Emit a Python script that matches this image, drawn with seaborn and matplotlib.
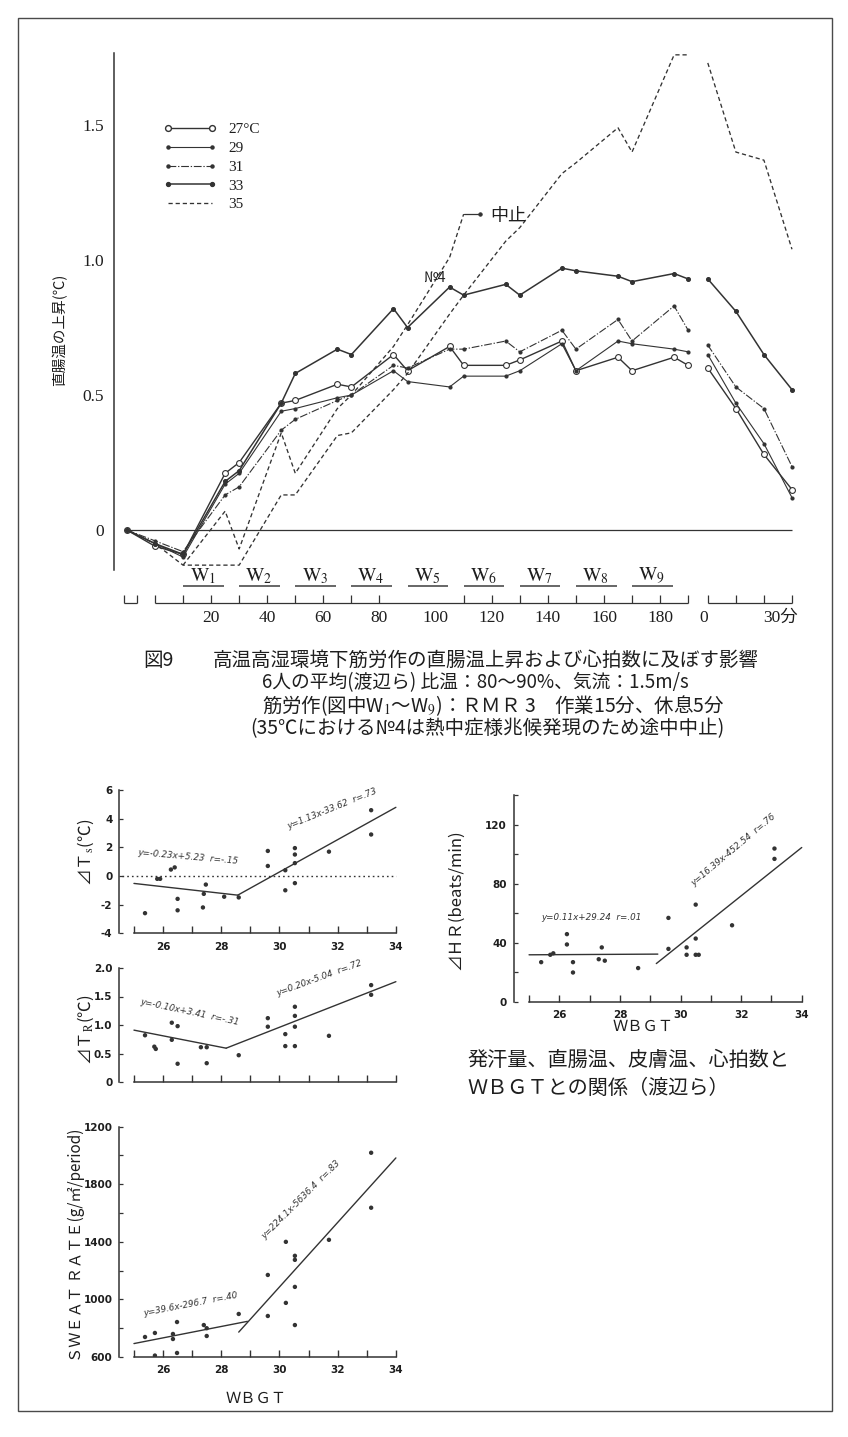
import matplotlib
matplotlib.use("Agg")
import matplotlib.pyplot as plt
import numpy as np
import pandas as pd
import seaborn as sns
from matplotlib.lines import Line2D
from matplotlib.patches import Rectangle

sns.set_theme(style="white")
plt.rcParams["font.family"] = ["Noto Sans CJK JP", "DejaVu Sans"]
plt.rcParams["mathtext.fontset"] = "stix"
plt.rcParams["axes.unicode_minus"] = False

INK = "#333333"
TXT = "#1e1e1e"
SERIF = ["Liberation Serif", "Noto Sans CJK JP"]

# ---------------- rise of rectal temperature (deg C) ----------------
work_min = [-10, 0, 10, 25, 30, 45, 50, 65, 70, 85, 90, 105, 110, 125, 130, 145, 150, 165, 170, 185, 190]
recovery_min = [0, 10, 20, 30]

rise_27 = [0, -0.06, -0.09, 0.21, 0.25, 0.47, 0.48, 0.54, 0.53, 0.65, 0.59, 0.68, 0.61, 0.61, 0.63, 0.70, 0.59, 0.64, 0.59, 0.64, 0.61]
rise_29 = [0, -0.05, -0.10, 0.17, 0.21, 0.44, 0.45, 0.49, 0.50, 0.59, 0.55, 0.53, 0.57, 0.57, 0.59, 0.69, 0.59, 0.70, 0.69, 0.67, 0.66]
rise_31 = [0, -0.04, -0.08, 0.13, 0.16, 0.37, 0.41, 0.48, 0.50, 0.61, 0.60, 0.67, 0.67, 0.70, 0.66, 0.74, 0.67, 0.78, 0.70, 0.83, 0.74]
rise_33 = [0, -0.05, -0.09, 0.18, 0.22, 0.47, 0.58, 0.67, 0.65, 0.82, 0.75, 0.90, 0.87, 0.91, 0.87, 0.97, 0.96, 0.94, 0.92, 0.95, 0.93]
rise_35 = [0, -0.05, -0.13, -0.13, -0.13, 0.13, 0.13, 0.35, 0.36, 0.52, 0.58, 0.80, 0.87, 1.07, 1.12, 1.32, 1.36, 1.49, 1.40, 1.76, 1.76]

recovery_27 = [0.60, 0.45, 0.28, 0.15]
recovery_29 = [0.65, 0.47, 0.32, 0.12]
recovery_31 = [0.685, 0.53, 0.45, 0.235]
recovery_33 = [0.93, 0.81, 0.65, 0.52]
recovery_35 = [1.73, 1.40, 1.37, 1.04]

# subject No.4 at 35 deg C, stopped during the 6th work bout
no4_min = [10, 25, 30, 45, 50, 65, 70, 85, 90, 105, 110]
no4_rise = [-0.13, 0.07, -0.07, 0.36, 0.21, 0.45, 0.50, 0.68, 0.76, 1.01, 1.17]
no4_stop_min = [110, 116]
no4_stop_rise = [1.17, 1.17]

series_names = ["27°C", "29", "31", "33", "35"]
work_ticks = [20, 40, 60, 80, 100, 120, 140, 160, 180]
work_blocks = [r"$\mathrm{W}_{%d}$" % k for k in range(1, 10)]
RECOVERY_START = 197   # axis position of recovery minute 0

# ---------------- WBGT relations ----------------
ts_wbgt = [25.38, 25.8, 25.9, 26.27, 26.4, 26.5, 26.5, 27.47, 27.4, 27.37, 28.1, 28.6,
           29.6, 29.6, 30.2, 30.2, 30.53, 30.53, 30.53, 30.53, 31.7, 33.15, 33.15]
ts_delta = [-2.6, -0.2, -0.2, 0.45, 0.6, -1.6, -2.4, -0.6, -1.25, -2.2, -1.45, -1.5,
            1.75, 0.7, 0.4, -1.0, 1.95, 1.5, 0.9, -0.5, 1.7, 4.6, 2.9]

tr_wbgt = [25.38, 25.7, 25.75, 26.3, 26.5, 26.3, 26.5, 27.3, 27.5, 27.5, 28.6, 29.6,
           29.6, 30.2, 30.2, 30.53, 30.53, 30.53, 30.53, 31.7, 33.15, 33.15]
tr_delta = [0.82, 0.62, 0.58, 1.04, 0.98, 0.74, 0.32, 0.61, 0.61, 0.33, 0.47, 1.12,
            0.97, 0.84, 0.63, 1.32, 1.16, 0.97, 0.63, 0.81, 1.70, 1.53]

sw_wbgt = [25.38, 25.72, 25.72, 26.34, 26.34, 26.48, 26.48, 27.4, 27.5, 27.5, 28.6, 29.6,
           29.6, 30.22, 30.22, 30.53, 30.53, 30.53, 30.53, 31.7, 33.15, 33.15]
sw_rate = [739, 767, 610, 760, 725, 843, 628, 822, 800, 746, 899, 1170,
           885, 1400, 976, 1303, 1275, 1087, 822, 1414, 2019, 1637]

hr_wbgt = [25.4, 25.7, 25.8, 26.25, 26.25, 26.45, 26.45, 27.4, 27.3, 27.5, 28.6, 29.6,
           29.6, 30.2, 30.2, 30.5, 30.6, 30.5, 30.5, 31.7, 33.1, 33.1]
hr_delta = [27, 32, 33, 46, 39, 27, 20, 37, 29, 28, 23, 57,
            36, 37, 32, 32, 32, 43, 66, 52, 104, 97]

# regression lines: (slope, intercept, wbgt_from, wbgt_to, label)
ts_fits = [(-0.23, 5.23, 25.0, 28.57, "y=-0.23x+5.23  r=-.15"),
           (1.13, -33.62, 28.57, 34.0, "y=1.13x-33.62  r=.73")]
tr_fits = [(-0.10, 3.41, 25.0, 28.17, "y=-0.10x+3.41  r=-.31"),
           (0.20, -5.04, 28.17, 34.0, "y=0.20x-5.04  r=.72")]
sw_fits = [(39.6, -296.7, 25.0, 28.9, "y=39.6x-296.7  r=.40"),
           (224.1, -5636.4, 28.6, 34.0, "y=224.1x-5636.4  r=.83")]
hr_fits = [(0.11, 29.24, 25.0, 29.25, "y=0.11x+29.24  r=.01"),
           (16.39, -452.54, 29.2, 34.0, "y=16.39x-452.54  r=.76")]

wbgt_ticks = list(range(25, 35))
wbgt_labels = ["", "26", "", "28", "", "30", "", "32", "", "34"]

FIG_W, FIG_H = 848, 1437
fig = plt.figure(figsize=(FIG_W / 100, FIG_H / 100), dpi=100)
fig.patch.set_facecolor("white")


def px_axes(x0, y0, x1, y1):
    return fig.add_axes([x0 / FIG_W, 1 - y1 / FIG_H, (x1 - x0) / FIG_W, (y1 - y0) / FIG_H])


def ftext(x, y, s, **kw):
    kw.setdefault("color", TXT)
    return fig.text(x / FIG_W, 1 - y / FIG_H, s, **kw)


# page frame
fig.patches.append(Rectangle((18 / FIG_W, 1 - 1411 / FIG_H), (832 - 18) / FIG_W, (1411 - 18) / FIG_H,
                             transform=fig.transFigure, fill=False, lw=1.0, ec="#4a4a4a"))

# ================= main time-course chart =================
ax = px_axes(114, 53.5, 800.4, 570)
ax.set_facecolor("none")
ax.set_xlim(-14.6, 230)
ax.set_ylim(-0.148, 1.765)

ax.hlines(0, -10.5, RECOVERY_START + 30, color=INK, lw=0.9)

styles = {
    "27°C": dict(lw=1.0, linestyle="-", marker="o", markersize=4.2, markerfacecolor="white"),
    "29": dict(lw=0.8, linestyle="-", marker="o", markersize=2.2, markerfacecolor=INK),
    "31": dict(lw=0.8, linestyle=(0, (7, 1.6, 1.2, 1.6)), marker="o", markersize=2.2, markerfacecolor=INK),
    "33": dict(lw=1.1, linestyle="-", marker="o", markersize=2.8, markerfacecolor=INK),
    "35": dict(lw=0.95, linestyle=(0, (3.2, 2.2)), marker=None),
}
work_vals = [rise_27, rise_29, rise_31, rise_33, rise_35]
rec_vals = [recovery_27, recovery_29, recovery_31, recovery_33, recovery_35]

rows = []
for name, wv, rv in zip(series_names, work_vals, rec_vals):
    for t, v in zip(work_min, wv):
        rows.append((name, "work", t, v))
    for t, v in zip(recovery_min, rv):
        rows.append((name, "recovery", RECOVERY_START + t, v))
course = pd.DataFrame(rows, columns=["temp", "phase", "pos", "rise"])

for name in series_names:
    for phase in ["work", "recovery"]:
        sub = course[(course.temp == name) & (course.phase == phase)]
        sns.lineplot(data=sub, x="pos", y="rise", ax=ax, color=INK, estimator=None, sort=False,
                     legend=False, markeredgecolor=INK, markeredgewidth=0.8, clip_on=False,
                     **styles[name])

sns.lineplot(x=no4_min, y=no4_rise, ax=ax, color=INK, estimator=None, sort=False, legend=False,
             lw=0.95, linestyle=(0, (3.2, 2.2)))
sns.lineplot(x=no4_stop_min, y=no4_stop_rise, ax=ax, color=INK, estimator=None, sort=False,
             legend=False, lw=0.9, marker="o", markersize=2.4, markevery=[1],
             markeredgecolor=INK, markerfacecolor=INK)
ax.text(99.5, 0.935, "№4", ha="center", va="center", fontsize=10.5, color=TXT)
ax.text(119.5, 1.163, "中止", ha="left", va="center", fontsize=13, color=TXT)

# axis styling after seaborn has drawn (it sets its own labels)
ax.set_xlabel("")
ax.set_ylabel("")
for s in ["top", "right", "bottom"]:
    ax.spines[s].set_visible(False)
ax.spines["left"].set_color(INK)
ax.spines["left"].set_linewidth(1.1)
ax.set_yticks([0, 0.5, 1.0, 1.5])
ax.set_yticklabels(["0", "0.5", "1.0", "1.5"])
ax.tick_params(axis="y", direction="out", length=6, width=1, colors=INK, labelsize=12.5, pad=1.5)
for lab in ax.get_yticklabels():
    lab.set_fontfamily(SERIF)
    lab.set_color(TXT)
ax.set_xticks([])
ax.grid(False)
ax.set_xlim(-14.6, 230)
ax.set_ylim(-0.148, 1.765)

# legend
handles = [Line2D([], [], color=INK, **{k: v for k, v in styles[n].items()},
                  markeredgecolor=INK) for n in series_names]
leg = ax.legend(handles, series_names, loc="upper left", bbox_to_anchor=(0.072, 0.866),
                frameon=False, numpoints=2, handlelength=3.5, handletextpad=0.75,
                labelspacing=0.33, borderaxespad=0, borderpad=0,
                prop={"family": SERIF, "size": 11})
for t in leg.get_texts():
    t.set_color(TXT)

# bracketed time axis
y_base, y_top = -0.272, -0.242
def bracket(t0, t1, ticks):
    ax.hlines(y_base, t0, t1, color=INK, lw=0.9, clip_on=False)
    ax.vlines(ticks, y_base, y_top, color=INK, lw=0.9, clip_on=False)

bracket(-11, -6.5, [-11, -6.5])
bracket(0, 190, [0, 10, 20, 30, 40, 50, 60, 70, 80, 110, 120, 130, 140, 150, 160, 170, 180, 190])
bracket(RECOVERY_START, RECOVERY_START + 30, [RECOVERY_START + m for m in recovery_min])

for t in work_ticks:
    ax.text(t, -0.325, str(t), ha="center", va="center", fontsize=12.5, family=SERIF,
            color=TXT, clip_on=False)
ax.text(RECOVERY_START - 1.5, -0.325, "0", ha="center", va="center", fontsize=12.5,
        family=SERIF, color=TXT, clip_on=False)
ax.text(RECOVERY_START + 26, -0.325, "30分", ha="center", va="center", fontsize=12.5,
        family=SERIF, color=TXT, clip_on=False)

for k, lab in enumerate(work_blocks, start=1):
    t0, t1 = 20 * k - 10, 20 * k + 5
    ax.text((t0 + t1) / 2 - 0.5, -0.168, lab, ha="center", va="center", fontsize=14,
            color=TXT, clip_on=False)
    ax.hlines(-0.207, t0, t1 - 0.5, color="#5a5a5a", lw=1.3, clip_on=False)

ftext(60, 330, "直腸温の上昇(℃)", rotation=90, ha="center", va="center", fontsize=10.5)

# caption of the time-course chart
ftext(143, 660, "図9", ha="left", va="center", fontsize=14)
ftext(213, 660, "高温高湿環境下筋労作の直腸温上昇および心拍数に及ぼす影響",
      ha="left", va="center", fontsize=14)
ftext(262, 683, "6人の平均(渡辺ら) 比温：80～90%、気流：1.5m/s", ha="left", va="center", fontsize=13.5)
ftext(262, 706, r"筋労作(図中W$_1$～W$_9$)：ＲＭＲ 3　作業15分、休息5分", ha="left", va="center",
      fontsize=14)
ftext(250, 729, "(35℃における№4は熱中症様兆候発現のため途中中止)", ha="left", va="center",
      fontsize=14)


# ================= WBGT panels =================
def wbgt_panel(box, ylim, yticks, ylabels, xs, ys, fits, eq_pos, show_xlabels,
               minor=None, hline=None):
    a = px_axes(*box)
    a.set_facecolor("none")
    if hline is not None:
        a.hlines(hline, 24.6, 34.0, color=INK, lw=1.0, linestyles=(0, (1.2, 2.2)))
    sns.scatterplot(x=xs, y=ys, ax=a, s=10, color=INK, edgecolor="none", legend=False)
    for (m, c, x0, x1, lab), (ex, ey, rot) in zip(fits, eq_pos):
        fx = np.array([x0, x1])
        sns.lineplot(x=fx, y=m * fx + c, ax=a, color=INK, lw=1.0, estimator=None, legend=False)
        a.text(ex, ey, lab, rotation=rot, ha="center", va="center", fontsize=6.3,
               family="DejaVu Sans", color="#333333", style="italic", rotation_mode="anchor")
    a.set_xlabel("")
    a.set_ylabel("")
    a.set_xlim(24.5, 34.2)
    a.set_ylim(*ylim)
    for s in ["top", "right"]:
        a.spines[s].set_visible(False)
    for s in ["left", "bottom"]:
        a.spines[s].set_color(INK)
        a.spines[s].set_linewidth(1.1)
    a.spines["bottom"].set_bounds(25, 34)
    a.spines["left"].set_bounds(ylim[0], yticks[-1] if minor is None else max(yticks[-1], minor[-1]))
    a.set_xticks(wbgt_ticks)
    a.set_xticklabels(wbgt_labels if show_xlabels else [""] * len(wbgt_ticks))
    a.set_yticks(yticks)
    a.set_yticklabels(ylabels)
    if minor is not None:
        a.set_yticks(minor, minor=True)
        a.tick_params(axis="y", which="minor", direction="in", length=3, width=0.9, colors=INK, left=True)
    a.tick_params(axis="x", direction="in", length=5, width=1.0, colors=INK, pad=6,
                  labelsize=7.5, bottom=True)
    a.tick_params(axis="y", which="major", direction="in", length=3, width=0.9, colors=INK,
                  pad=5, labelsize=7.5, left=True)
    for lab in a.get_xticklabels() + a.get_yticklabels():
        lab.set_fontweight("bold")
        lab.set_fontfamily("DejaVu Sans")
        lab.set_color(TXT)
    a.grid(False)
    return a


ax_ts = wbgt_panel((119.4, 787.3, 401.7, 933.2), (-4, 6.2), [-4, -2, 0, 2, 4, 6],
                   ["-4", "-2", "0", "2", "4", "6"], ts_wbgt, ts_delta, ts_fits,
                   [(26.85, 1.3, -5), (31.8, 4.7, 22)], True, hline=0)
ax_tr = wbgt_panel((119.4, 962.3, 401.7, 1082), (0, 2.1), [0, 0.5, 1.0, 1.5, 2.0],
                   ["0", "0.5", "1.0", "1.5", "2.0"], tr_wbgt, tr_delta, tr_fits,
                   [(26.9, 1.23, -12), (31.35, 1.82, 20)], False)
ax_sw = wbgt_panel((119.4, 1119.5, 401.7, 1357), (600, 2250), [600, 1000, 1400, 1800, 2200],
                   ["600", "1000", "1400", "1800", "1200"], sw_wbgt, sw_rate, sw_fits,
                   [(26.95, 965, 11), (30.75, 1690, 45)], True, minor=[800, 1200, 1600, 2000])
ax_hr = wbgt_panel((513.9, 792.5, 807.8, 1002), (0, 142), [0, 40, 80, 120],
                   ["0", "40", "80", "120"], hr_wbgt, hr_delta, hr_fits,
                   [(27.05, 57, 0), (31.75, 103, 40)], True, minor=[20, 60, 100, 140])

ftext(86, 852, r"⊿Ｔ$_\mathrm{s}$(℃)", rotation=90, ha="center", va="center", fontsize=12)
ftext(86, 1030, r"⊿Ｔ$_\mathrm{R}$(℃)", rotation=90, ha="center", va="center", fontsize=12)
ftext(76, 1245, "ＳＷＥＡＴ ＲＡＴＥ(g/㎡/period)", rotation=90, ha="center", va="center", fontsize=11)
ftext(456, 900, "⊿ＨＲ(beats/min)", rotation=90, ha="center", va="center", fontsize=12)
ftext(256, 1398, "ＷＢＧＴ", ha="center", va="center", fontsize=11)
ftext(643, 1026, "ＷＢＧＴ", ha="center", va="center", fontsize=11)

ftext(467, 1060, "発汗量、直腸温、皮膚温、心拍数と", ha="left", va="center", fontsize=14.5)
ftext(467, 1088, "ＷＢＧＴとの関係（渡辺ら）", ha="left", va="center", fontsize=14.5)

fig.savefig("out.png", dpi=100, facecolor="white")
